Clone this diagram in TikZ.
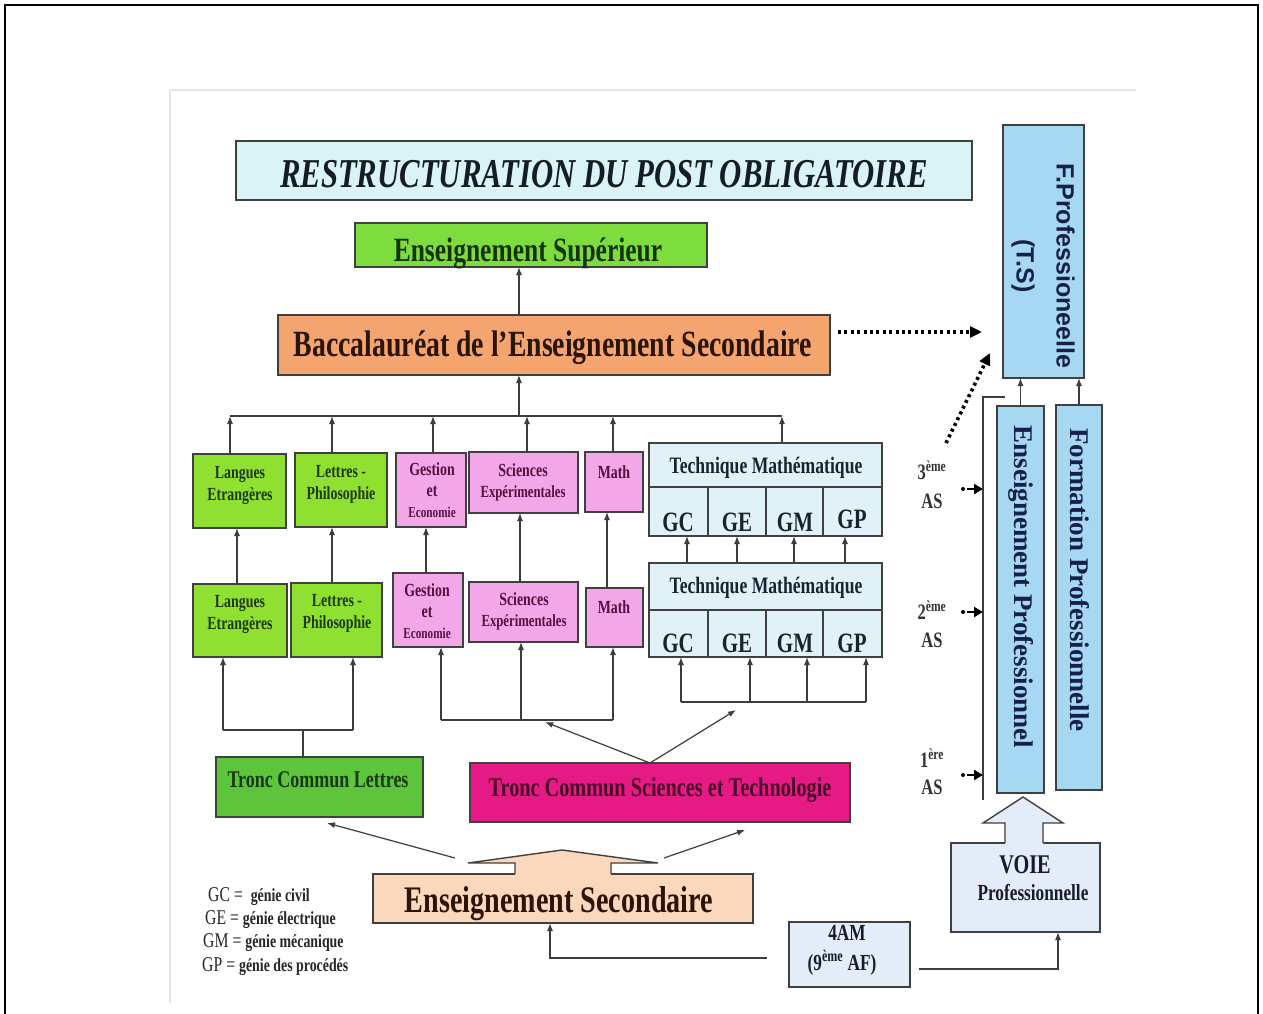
\documentclass[tikz,border=0pt]{standalone}
\usepackage{fontspec}
\setmainfont{Liberation Serif}
\newfontfamily\cond[FakeStretch=0.75]{Liberation Serif}
\newfontfamily\sansf{Liberation Sans}
\usetikzlibrary{arrows.meta}
\newcommand\fcd[2]{\cond\bfseries\fontsize{#1}{#2}\selectfont}
\newcommand\fcr[2]{\cond\fontsize{#1}{#2}\selectfont}
\definecolor{titleC}{HTML}{DAF3F7}
\definecolor{titleT}{HTML}{141C24}
\definecolor{supC}{HTML}{7DDC3E}
\definecolor{supT}{HTML}{17330C}
\definecolor{bacC}{HTML}{F4A56F}
\definecolor{bacT}{HTML}{2B1408}
\definecolor{greenC}{HTML}{8FE030}
\definecolor{greenT}{HTML}{1E3A10}
\definecolor{pinkC}{HTML}{F3A6E8}
\definecolor{pinkT}{HTML}{55103F}
\definecolor{techC}{HTML}{E0F1F8}
\definecolor{techT}{HTML}{1A2230}
\definecolor{tclC}{HTML}{5DC43B}
\definecolor{tclT}{HTML}{173A10}
\definecolor{tcsC}{HTML}{E61A84}
\definecolor{tcsT}{HTML}{4A0828}
\definecolor{ensC}{HTML}{FBD7BB}
\definecolor{ensT}{HTML}{2B1408}
\definecolor{blueC}{HTML}{A6D8F2}
\definecolor{blueT}{HTML}{16204A}
\definecolor{voieC}{HTML}{E3EDF7}
\definecolor{voieT}{HTML}{1A1A2A}
\definecolor{lineC}{HTML}{3D3D3D}
\definecolor{bordC}{HTML}{404040}
\newcommand\bx[6]{\node[box,#6,minimum width={(#4)-(#2)},minimum height={(#5)-(#3)}] (#1) at ({((#2)+(#4))/2},{((#3)+(#5))/2}) {};}
\tikzset{
  box/.style={draw=bordC, line width=1.4pt, inner sep=0pt, outer sep=0pt},
  arr/.style={draw=lineC, line width=1.2pt, -{Latex[length=8pt,width=6pt]}},
  ln/.style={draw=lineC, line width=1.2pt},
  dotarr/.style={draw=black, line width=3.6pt, dash pattern=on 3pt off 3.4pt, -{Triangle[length=12pt,width=11pt]}},
  smarr/.style={draw=black, line width=2.8pt, -{Triangle[length=9pt,width=10pt]}},
  txt/.style={inner sep=0pt, align=center},
}
\begin{document}
\begin{tikzpicture}[x=1pt,y=-1pt]
\useasboundingbox (0,0) rectangle (1263,1014);
\fill[white] (0,0) rectangle (1263,1014);
\draw[line width=2pt] (5,1030) -- (5,5) -- (1258,5) -- (1258,1030);
\draw[black!10, line width=1.5pt] (170,1003) -- (170,90) -- (1136,90);

% title
\bx{title}{236}{141}{972}{200}{fill=titleC}
\node[txt, anchor=base, text=titleT, font=\cond\bfseries\itshape\fontsize{41}{44}\selectfont] (title-t) at (604,187) {RESTRUCTURATION DU POST OBLIGATOIRE};

\bx{sup}{355}{223}{707}{267}{fill=supC}
\node[txt, anchor=base, text=supT, font=\fcd{34}{36}] (sup-t) at (528,261) {Enseignement Supérieur};

\bx{bac}{278}{315}{830}{375}{fill=bacC}
\node[txt, anchor=base, text=bacT, font=\fcd{37}{40}] (bac-t) at (553,356) {Baccalauréat de l’Enseignement Secondaire};

% top row (3eme)
\bx{langA}{193}{454}{286}{528}{fill=greenC}
\node[txt, text=greenT, font=\fcd{18.5}{22}] (langA-t) at (240,485) {Langues\\Etrangères};
\bx{letA}{295}{453}{387}{527}{fill=greenC}
\node[txt, text=greenT, font=\fcd{18.5}{22}] (letA-t) at (341,484) {Lettres -\\Philosophie};
\bx{gesA}{396}{453}{466}{527}{fill=pinkC}
\node[txt, text=pinkT, font=\fcd{18.5}{21}] (gesA-t) at (432,490) {Gestion\\et\\{\fcd{15}{18}Economie}};
\bx{sciA}{469}{452}{578}{513}{fill=pinkC}
\node[txt, text=pinkT, font=\fcd{18.5}{21}] (sciA-t) at (523,482) {Sciences\\{\fcd{17}{21}Expérimentales}};
\bx{mathA}{585}{452}{643}{512}{fill=pinkC}
\node[txt, text=pinkT, font=\fcd{18.5}{21}] (mathA-t) at (614,472) {Math};

\bx{taH}{649}{443}{882}{487}{fill=techC}
\node[txt, anchor=base, text=techT, font=\fcd{23.5}{26}] (taH-t) at (766,473) {Technique Mathématique};
\bx{taGC}{649}{487}{708}{536}{fill=techC}
\bx{taGE}{708}{487}{766}{536}{fill=techC}
\bx{taGM}{766}{487}{823}{536}{fill=techC}
\bx{taGP}{823}{487}{882}{536}{fill=techC}
\node[txt, anchor=base, text=techT, font=\fcd{28}{30}] (taGC-t) at (678,531) {GC};
\node[txt, anchor=base, text=techT, font=\fcd{28}{30}] (taGE-t) at (737,531) {GE};
\node[txt, anchor=base, text=techT, font=\fcd{28}{30}] (taGM-t) at (795,531) {GM};
\node[txt, anchor=base, text=techT, font=\fcd{28}{30}] (taGP-t) at (852,528) {GP};

% middle row (2eme)
\bx{langB}{193}{584}{287}{657}{fill=greenC}
\node[txt, text=greenT, font=\fcd{18.5}{22}] (langB-t) at (240,614) {Langues\\Etrangères};
\bx{letB}{291}{583}{382}{657}{fill=greenC}
\node[txt, text=greenT, font=\fcd{18.5}{22}] (letB-t) at (337,613) {Lettres -\\Philosophie};
\bx{gesB}{393}{573}{463}{647}{fill=pinkC}
\node[txt, text=pinkT, font=\fcd{18.5}{21}] (gesB-t) at (427,611) {Gestion\\et\\{\fcd{15}{18}Economie}};
\bx{sciB}{469}{582}{578}{642}{fill=pinkC}
\node[txt, text=pinkT, font=\fcd{18.5}{21}] (sciB-t) at (524,611) {Sciences\\{\fcd{17}{21}Expérimentales}};
\bx{mathB}{586}{588}{643}{647}{fill=pinkC}
\node[txt, text=pinkT, font=\fcd{18.5}{21}] (mathB-t) at (614,607) {Math};

\bx{tbH}{649}{563}{882}{610}{fill=techC}
\node[txt, anchor=base, text=techT, font=\fcd{23.5}{26}] (tbH-t) at (766,593) {Technique Mathématique};
\bx{tbGC}{649}{610}{708}{657}{fill=techC}
\bx{tbGE}{708}{610}{766}{657}{fill=techC}
\bx{tbGM}{766}{610}{823}{657}{fill=techC}
\bx{tbGP}{823}{610}{882}{657}{fill=techC}
\node[txt, anchor=base, text=techT, font=\fcd{28}{30}] (tbGC-t) at (678,652) {GC};
\node[txt, anchor=base, text=techT, font=\fcd{28}{30}] (tbGE-t) at (737,652) {GE};
\node[txt, anchor=base, text=techT, font=\fcd{28}{30}] (tbGM-t) at (795,652) {GM};
\node[txt, anchor=base, text=techT, font=\fcd{28}{30}] (tbGP-t) at (852,652) {GP};

% tronc communs
\bx{tcl}{216}{757}{423}{817}{fill=tclC}
\node[txt, anchor=base, text=tclT, font=\fcd{24}{26}] (tcl-t) at (318,787) {Tronc Commun Lettres};
\bx{tcs}{470}{763}{850}{822}{fill=tcsC}
\node[txt, anchor=base, text=tcsT, font=\fcd{27}{30}] (tcs-t) at (660,796) {Tronc Commun Sciences et Technologie};

% enseignement secondaire with broad arrow on top
\bx{ens}{373}{874}{753}{923}{fill=ensC}
\fill[ensC] (515,876) -- (515,863) -- (468,863) -- (562,850) -- (658,863) -- (611,863) -- (611,876) -- cycle;
\draw[bordC, line width=1.4pt, line join=miter] (515,874) -- (515,863) -- (468,863) -- (562,850) -- (658,863) -- (611,863) -- (611,874);
\node[txt, anchor=base, text=ensT, font=\fcd{37.5}{40}] (ens-t) at (559,912) {Enseignement Secondaire};

% right column
\bx{fpro}{1003}{125}{1084}{378}{fill=blueC}
\node[txt, rotate=-90, text=blueT, font=\sansf\bfseries\fontsize{25}{40}\selectfont] (fpro-t) at (1043,266) {F.Professioneelle\\(T.S)};
\bx{epro}{997}{406}{1044}{793}{fill=blueC}
\node[txt, rotate=-90, text=blueT, font=\bfseries\fontsize{27}{30}\selectfont] (epro-t) at (1021,587) {Enseignement Professionnel};
\bx{fmpro}{1056}{405}{1102}{790}{fill=blueC}
\node[txt, rotate=-90, text=blueT, font=\bfseries\fontsize{27}{30}\selectfont] (fmpro-t) at (1080,580) {Formation Professionnelle};

\bx{voie}{951}{843}{1100}{932}{fill=voieC}
\node[txt, text=voieT, font=\fcd{27}{28}] (voie-t1) at (1025,865) {VOIE};
\node[txt, text=voieT, font=\fcd{23}{24}] (voie-t2) at (1033,893) {Professionnelle};
\fill[voieC] (1005,845) -- (1005,823) -- (983,823) -- (1023,797) -- (1063,823) -- (1043,823) -- (1043,845) -- cycle;
\draw[bordC, line width=1.4pt] (1005,843) -- (1005,823) -- (983,823) -- (1023,797) -- (1063,823) -- (1043,823) -- (1043,843);

\bx{fouram}{789}{922}{910}{987}{fill=voieC}
\node[txt, text=voieT, font=\fcd{23}{24}] (fouram-t1) at (847,933) {4AM};
\node[txt, text=voieT, font=\fcd{23}{24}] (fouram-t2) at (842,963) {(9\textsuperscript{ème} AF)};

% year labels
\node[txt, text=black!80, font=\fcd{22}{24}] (y3) at (932,470) {3\textsuperscript{ème}};
\node[txt, text=black!80, font=\fcd{22}{24}] (y3b) at (932,501) {AS};
\node[txt, text=black!80, font=\fcd{22}{24}] (y2) at (932,610) {2\textsuperscript{ème}};
\node[txt, text=black!80, font=\fcd{22}{24}] (y2b) at (932,640) {AS};
\node[txt, text=black!80, font=\fcd{22}{24}] (y1) at (932,758) {1\textsuperscript{ère}};
\node[txt, text=black!80, font=\fcd{22}{24}] (y1b) at (932,787) {AS};

% legend
\node[txt, anchor=west, text=black!85] (lg1) at (208,897) {{\fcr{21}{23}GC =\ \ }{\fcd{18.5}{20}génie civil}};
\node[txt, anchor=west, text=black!85] (lg2) at (205,920) {{\fcr{21}{23}GE = }{\fcd{18.5}{20}génie électrique}};
\node[txt, anchor=west, text=black!85] (lg3) at (203,943) {{\fcr{21}{23}GM = }{\fcd{18.5}{20}génie mécanique}};
\node[txt, anchor=west, text=black!85] (lg4) at (202,967) {{\fcr{21}{23}GP = }{\fcd{18.5}{20}génie des procédés}};

% ---------- connectors ----------
\coordinate (c1) at (230,416);
\coordinate (c2) at (332,416);
\coordinate (c3) at (433,416);
\coordinate (c4) at (527,416);
\coordinate (c5) at (613,416);
\coordinate (c6) at (782,416);
\coordinate (cb) at (519,416);
\draw[ln] (c1) -- (c6);
\draw[arr] (c1 |- langA.north) -- (c1);
\draw[arr] (c2 |- letA.north) -- (c2);
\draw[arr] (c3 |- gesA.north) -- (c3);
\draw[arr] (c4 |- sciA.north) -- (c4);
\draw[arr] (c5 |- mathA.north) -- (c5);
\draw[arr] (c6 |- taH.north) -- (c6);
\draw[arr] (cb) -- (cb |- bac.south);
\draw[arr] (cb |- bac.north) -- (cb |- sup.south);

% between rows
\coordinate (r1) at (237,0);
\coordinate (r2) at (332,0);
\coordinate (r3) at (426,0);
\coordinate (r4) at (520,0);
\coordinate (r5) at (607,0);
\coordinate (r6) at (687,0);
\coordinate (r7) at (737,0);
\coordinate (r8) at (794,0);
\coordinate (r9) at (845,0);
\draw[arr] (r1 |- langB.north) -- (r1 |- langA.south);
\draw[arr] (r2 |- letB.north) -- (r2 |- letA.south);
\draw[arr] (r3 |- gesB.north) -- (r3 |- gesA.south);
\draw[arr] (r4 |- sciB.north) -- (r4 |- sciA.south);
\draw[arr] (r5 |- mathB.north) -- (r5 |- mathA.south);
\draw[arr] (r6 |- tbH.north) -- (r6 |- taGC.south);
\draw[arr] (r7 |- tbH.north) -- (r7 |- taGE.south);
\draw[arr] (r8 |- tbH.north) -- (r8 |- taGM.south);
\draw[arr] (r9 |- tbH.north) -- (r9 |- taGP.south);

% lettres group
\coordinate (lb1) at (223,730);
\coordinate (lb2) at (353,730);
\coordinate (lbm) at (303,730);
\draw[ln] (lb1) -- (lb2);
\draw[arr] (lb1) -- (lb1 |- langB.south);
\draw[arr] (lb2) -- (lb2 |- letB.south);
\draw[ln] (lbm |- tcl.north) -- (lbm);

% sciences group
\coordinate (sb1) at (441,720);
\coordinate (sb2) at (521,720);
\coordinate (sb3) at (613,720);
\draw[ln] (sb1) -- (sb3);
\draw[arr] (sb1) -- (sb1 |- gesB.south);
\draw[arr] (sb2) -- (sb2 |- sciB.south);
\draw[arr] (sb3) -- (sb3 |- mathB.south);

% technique group
\coordinate (tb1) at (681,702);
\coordinate (tb2) at (750,702);
\coordinate (tb3) at (807,702);
\coordinate (tb4) at (866,702);
\draw[ln] (tb1) -- (tb4);
\draw[arr] (tb1) -- (tb1 |- tbGC.south);
\draw[arr] (tb2) -- (tb2 |- tbGE.south);
\draw[arr] (tb3) -- (tb3 |- tbGM.south);
\draw[arr] (tb4) -- (tb4 |- tbGP.south);

% V from tronc commun sciences
\coordinate (vx) at (650,0);
\coordinate (vL) at (545,722);
\coordinate (vR) at (736,710);
\draw[arr] (vx |- tcs.north) -- (vL);
\draw[arr] (vx |- tcs.north) -- (vR);

% from enseignement secondaire
\coordinate (esL) at (455,858);
\coordinate (esR) at (664,858);
\coordinate (tclA) at (327,823);
\coordinate (tcsA) at (745,830);
\draw[arr] (esL) -- (tclA);
\draw[arr] (esR) -- (tcsA);

% 4AM connectors
\coordinate (xes) at (550,0);
\coordinate (xv) at (1058,0);
\draw[arr] ([xshift=-22pt,yshift=-3.5pt]fouram.west) -| (xes |- ens.south);
\draw[arr] ([xshift=9pt,yshift=-14.5pt]fouram.east) -| (xv |- voie.south);

% right column connectors
\draw[arr] (epro.north) -- (epro.north |- fpro.south);
\draw[arr] (fmpro.north) -- (fmpro.north |- fpro.south);
\coordinate (brE) at (1005,397);
\coordinate (brT) at (983,397);
\coordinate (brB) at (983,800);
\draw[ln] (brE) -- (brT) -- (brB);

% dotted arrows
\coordinate (d1s) at (838,332);
\coordinate (d1e) at (982,332);
\draw[dotarr] (d1s) -- (d1e);
\coordinate (d2s) at (946,443);
\coordinate (d2e) at (990,353);
\draw[dotarr] (d2s) -- (d2e);

% small year arrows
\foreach \yy/\nm in {489/a3,612/a2,775/a1}{
  \coordinate (\nm d) at (963,\yy);
  \coordinate (\nm s) at (967,\yy);
  \fill (\nm d) circle (2pt);
  \draw[smarr] (\nm s) -- (brT |- \nm s);
}
\end{tikzpicture}
\end{document}
